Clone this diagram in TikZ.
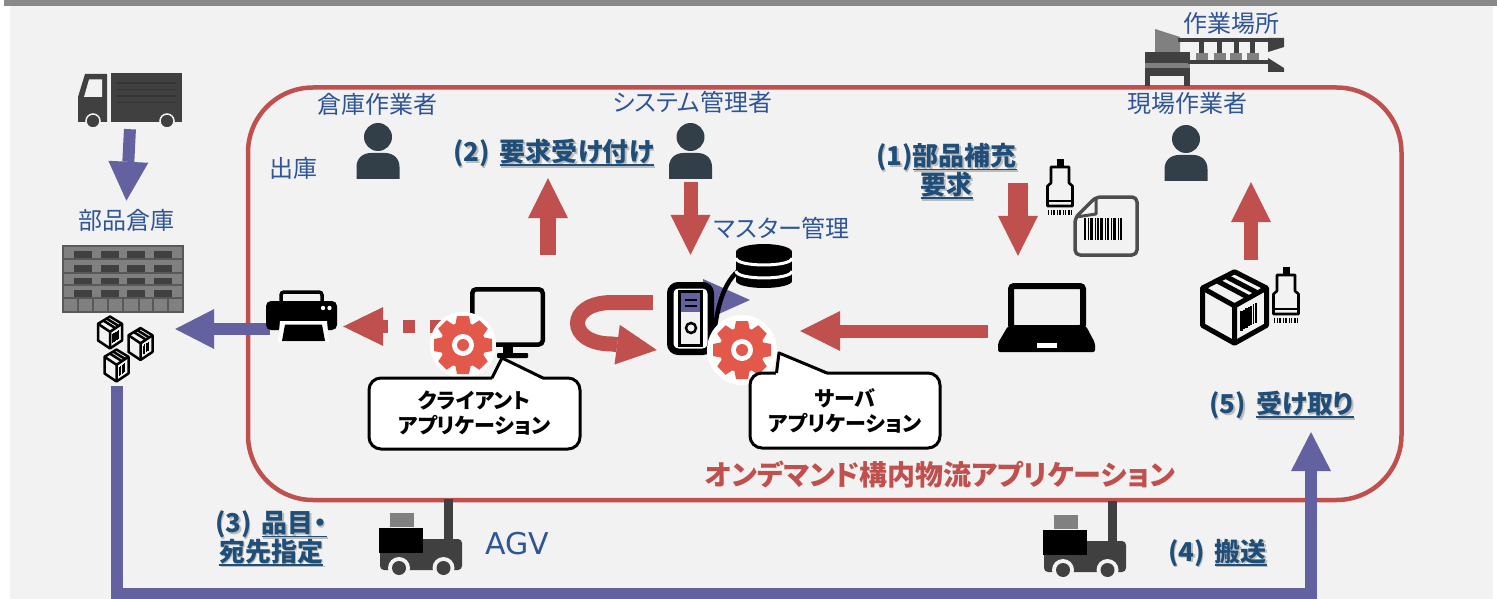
\documentclass[tikz,border=0pt]{standalone}
\usepackage{fontspec}
\setmainfont{Noto Sans CJK JP}[RawFeature=+palt]
\newfontfamily\agvfont{DejaVu Sans}
\usetikzlibrary{arrows.meta,fit}
\definecolor{panel}{RGB}{242,242,242}
\definecolor{topbar}{RGB}{137,137,137}
\definecolor{redc}{RGB}{192,80,77}
\definecolor{gearred}{RGB}{226,88,75}
\definecolor{purp}{RGB}{100,97,160}
\definecolor{bluec}{RGB}{47,85,151}
\definecolor{bblue}{RGB}{31,78,121}
\definecolor{icondark}{RGB}{64,64,64}
\definecolor{iconmid}{RGB}{128,128,128}
\definecolor{rackline}{RGB}{89,89,89}
\definecolor{personc}{RGB}{51,63,72}
\definecolor{docgrey}{RGB}{77,77,77}
% underline that does not change the height of the text box
\newcommand\ulj[1]{\setbox0=\hbox{#1}\rlap{\smash{\rule[-4.5pt]{\wd0}{1.8pt}}}\box0}
% bold step label with a soft drop shadow
\newcommand\boldlabel[4]{%
  \node[blshadow] (#1-shadow) at ({#2+1.5},{#3+1.5}) {#4};
  \node[blbl] (#1) at (#2,#3) {#4};}

\tikzset{
  gear/.pic={
    \fill[gearred] (0,0) circle (22.5);
    \foreach \a in {0,45,...,315}{
      \fill[gearred,rotate=\a] (-8,-19) -- (8,-19) -- (6,-29) -- (-6,-29) -- cycle;}
    \fill[white] (0,0) circle (11);
    \fill[gearred] (0,0) circle (6);
  },
  person/.pic={
    \fill[personc] (0,0) circle (14);
    \fill[personc] (-21.5,42) -- (-21.5,30) .. controls (-21.5,21) and (-15,16) .. (-7,16)
      -- (7,16) .. controls (15,16) and (21.5,21) .. (21.5,30) -- (21.5,42) -- cycle;
  },
  parcel/.pic={
    \draw[fill=panel,line join=round] (0,-1.1) -- (1,-0.6) -- (1,0.55) -- (0,1.1) -- (-1,0.55) -- (-1,-0.6) -- cycle;
    \draw[line join=round] (-1,-0.6) -- (0,-0.05) -- (1,-0.6) (0,-0.05) -- (0,1.1);
    \draw[line join=round] (-0.55,-0.82) -- (0.45,-0.30) (-0.28,-0.96) -- (0.72,-0.45);
    \foreach \x/\w in {0.22/1,0.30/0.5,0.37/1,0.45/0.5,0.52/0.8,0.60/0.5,0.67/1}{
      \draw[line width=\w*#1] (\x,{-0.05-0.55*\x+0.28}) -- ++(0,0.6);}
  },
  scanner/.pic={
    \fill (-3.5,1) rectangle (3.5,9);
    \draw[line width=2.6pt,line join=round] (-9,9) -- (9,9) -- (9,25) -- (12.5,28) -- (12.5,48)
      -- (-12.5,48) -- (-12.5,28) -- (-9,25) -- cycle;
    \draw[line width=2pt] (-12.5,43) -- (12.5,43);
    \foreach \x/\w in {-11.5/1.5,-8.5/1,-6/1.8,-2.5/1,0/1.5,3/1,5.5/1.8,9/1.5,11.5/1}{
      \draw[line width=\w pt] (\x,52) -- (\x,57);}
  },
  agv/.pic={
    \fill[icondark] (64,0) rectangle (73,42);
    \fill[icondark,rounded corners=4pt] (0,40) rectangle (82,71);
    \fill[iconmid] (10,14) rectangle (34,28);
    \fill[black] (-1,29) rectangle (43,54);
    \foreach \x in {19,63.5}{
      \fill[panel] (\x,69) circle (11);
      \fill[icondark] (\x,69) circle (7);}
  }
}

\begin{document}
\begin{tikzpicture}[x=1pt,y=-1pt,
  lbl/.style={text=bluec,font=\fontsize{24}{28}\selectfont,inner sep=0pt},
  blbl/.style={text=bblue,font=\fontsize{26}{25}\selectfont\bfseries,inner sep=0pt,align=center},
  blshadow/.style={blbl,text=black,opacity=0.22},
  iconbox/.style={inner sep=0pt},
  gearbox/.style={circle,inner sep=0pt,minimum size=#1},
  callout/.style={draw=black,line width=3pt,fill=white,rounded corners=12pt,inner sep=0pt,
    align=center,font=\fontsize{21}{25}\selectfont\bfseries},
  rarrow/.style={draw=redc,line width=#1,-{Triangle[length=40pt,width=40pt,line width=0pt]}},
  parrow/.style={draw=purp,line width=12pt,line join=miter,-{Triangle[length=39pt,width=40pt,line width=0pt]}},
  rdash/.style={draw=redc,line width=13pt,dash pattern=on 12pt off 15pt,dash phase=6pt,
    -{Triangle[length=40pt,width=39pt,line width=0pt]}}
]
\useasboundingbox (0,0) rectangle (1497,599);

% ---- background -------------------------------------------------------
\fill[white] (0,0) rectangle (1497,599);
\fill[topbar] (4,0) rectangle (1497,5.7);
\fill[panel] (10,5.7) rectangle (1493,599);

% ---- application frame --------------------------------------------------
\draw[redc,line width=4.5pt,rounded corners=65pt] (248,87.5) rectangle (1401.5,500);

% ---- icon anchors -------------------------------------------------------
\node[iconbox,fit={(78,73) (182,128)}] (truck) {};
\node[iconbox,fit={(63,246) (183,312)}] (rack) {};
\node[iconbox,fit={(98,316) (153,382)}] (parcels) {};
\node[iconbox,fit={(266,290) (337,341)}] (printer) {};
\node[iconbox,fit={(470,287) (545,358)}] (monitor) {};
\node[gearbox=66pt] (clientgear) at (463,345) {};
\node[iconbox,fit={(667,282) (714,355)}] (server) {};
\node[iconbox,fit={(736,244) (792,288)}] (db) {};
\node[gearbox=70pt] (srvgear) at (742,350) {};
\node[iconbox,fit={(998,283) (1095,352)}] (laptop) {};
\node[iconbox,fit={(1046,158) (1074,215)}] (scanA) {};
\node[iconbox,fit={(1073,195) (1139,257)}] (barcodedoc) {};
\node[iconbox,fit={(1202,272) (1267,343)}] (parcelbig) {};
\node[iconbox,fit={(1272,266) (1300,323)}] (scanB) {};
\node[iconbox,fit={(356.5,123) (399.5,179)}] (wworker) {};
\node[iconbox,fit={(669,123) (712,179)}] (sysadmin) {};
\node[iconbox,fit={(1164.5,125) (1207.5,181)}] (fworker) {};
\node[iconbox,fit={(379,499) (462,576)}] (agvA) {};
\node[iconbox,fit={(1043,501) (1126,578)}] (agvB) {};
\node[iconbox,fit={(1145,29) (1284,86)}] (workplace) {};
\coordinate (req1src) at (1018,183);

% ---- plain labels -------------------------------------------------------
\node[lbl] (lblworkplace) at (1231,23) {作業場所};
\node[lbl] (lblwworker) at (377,104) {倉庫作業者};
\node[lbl] (lblsysadmin) at (692.5,102) {システム管理者};
\node[lbl] (lblfworker) at (1187,103) {現場作業者};
\node[lbl] (lblship) at (293,168) {出庫};
\node[lbl] (whlabel) at (126,220) {部品倉庫};
\node[lbl] (lblmaster) at (782,228) {マスター管理};
\node[text=bluec,font=\agvfont\fontsize{30}{32}\selectfont,inner sep=0pt] (lblagv) at (517,544) {AGV};

% ---- step labels --------------------------------------------------------
\boldlabel{req2}{553.5}{153}{(2)\hspace{10pt}\ulj{要求受け付け}}
\boldlabel{req1}{946.5}{170.5}{(1)\ulj{部品補充}\\\ulj{要求}}
\boldlabel{recv5}{1281.5}{405}{(5)\hspace{10pt}\ulj{受け取り}}
\boldlabel{req3}{271}{537.5}{(3)\hspace{10pt}\ulj{品目・}\\\ulj{宛先指定}}
\boldlabel{carry4}{1217.5}{553}{(4)\hspace{10pt}\ulj{搬送}}
\node[text=redc,font=\fontsize{28}{30}\selectfont\bfseries,inner sep=0pt] (apptitle) at (940,475)
  {オンデマンド構内物流アプリケーション};

% ---- people -------------------------------------------------------------
\pic at (378,137) {person};
\pic at (690.5,137) {person};
\pic at (1186,139) {person};

% ---- workplace (press line) --------------------------------------------
\fill[iconmid] (1155,29) -- (1180,37) -- (1180,53) -- (1155,53) -- cycle;
\fill[icondark] (1145,52) rectangle (1190,63);
\fill[iconmid] (1145,63) rectangle (1190,68);
\fill[icondark] (1145,68) rectangle (1190,76);
\fill[icondark] (1145,76) rectangle (1150,86);
\fill[icondark] (1184,76) rectangle (1190,86);
\fill[icondark] (1178,38) rectangle (1268,42);
\fill[icondark] (1268,38) -- (1284,38) -- (1284,47) -- (1268,52) -- cycle;
\fill[icondark] (1188,60) rectangle (1268,64);
\fill[icondark] (1268,58) -- (1284,68) -- (1284,72) -- (1268,72) -- cycle;
\foreach \x in {1201.5,1219.5,1236,1252.5}{
  \fill[icondark] (\x-2.5,42) rectangle (\x+2.5,53);
  \fill[iconmid] (\x-6,53) rectangle (\x+6,60);}

% ---- truck --------------------------------------------------------------
\fill[icondark] (78,97) -- (85,74) -- (107,74) -- (107,122) -- (78,122) -- cycle;
\fill[panel] (84,97) -- (89,79.5) -- (102,79.5) -- (102,97) -- cycle;
\fill[icondark] (111,73) rectangle (182,122);
\foreach \y in {83,89.5,96,102.5}{\draw[black!80,line width=1.8pt] (117,\y) -- (176,\y);}
\foreach \x in {93,167}{\filldraw[fill=icondark,draw=panel,line width=1.5pt] (\x,121) circle (7);}

% ---- parts warehouse rack ----------------------------------------------
\fill[iconmid] (63,246) rectangle (183,312);
\foreach \y in {259,272.5,285,298}{\draw[rackline,line width=2pt] (63,\y) -- (183,\y);}
\foreach \ya/\yb in {251/258,264.5/271.5,277.5/284,290/297}{
  \foreach \xa in {74,101,127,154}{\fill[icondark] (\xa,\ya) rectangle (\xa+18,\yb);}}
\foreach \x in {78,93,108,123,139,153,168}{\draw[rackline,line width=1.5pt] (\x,298) -- (\x,312);}
\draw[rackline,line width=1.5pt] (63,246) rectangle (183,312);

% ---- small parcels ------------------------------------------------------
\pic[line width=2.5pt,xscale=12,yscale=14.5] at (110,332.5) {parcel=0.9};
\pic[line width=2.5pt,xscale=12,yscale=14.5] at (140.5,344) {parcel=0.9};
\pic[line width=2.5pt,xscale=12,yscale=14.5] at (116.5,365.5) {parcel=0.9};

% ---- purple flows -------------------------------------------------------
\draw[parrow,shorten <=1pt,shorten >=8pt] (truck.south) -- (whlabel.north);
\draw[parrow,shorten <=-4pt,shorten >=22pt] ([yshift=-13.5pt]printer.west) -- ([yshift=20pt]parcels.east);
\draw[parrow,shorten >=13pt] ([xshift=-8.5pt,yshift=-4pt]parcels.south) -- ++(0,208)
  -| ([xshift=29.5pt]recv5.south);

% ---- printer ------------------------------------------------------------
\draw[line width=3.5pt,rounded corners=3pt] (281,303) -- (281,292) -- (322,292) -- (322,303);
\fill[black,rounded corners=5pt] (266,301) rectangle (337,330);
\fill[white] (280,321) -- (327,321) -- (329,342) -- (278,342) -- cycle;
\fill[black] (285,324.5) -- (322,324.5) -- (325,341) -- (282,341) -- cycle;
\fill[white] (323,308) circle (2.2) (329.5,308) circle (2.2);

% ---- red request flows --------------------------------------------------
\draw[rarrow=16pt,shorten <=32pt,shorten >=11pt] ([xshift=40.5pt]monitor.north) -- ([xshift=-5.5pt]req2.south);
\draw[rarrow=14pt,shorten <=3pt,shorten >=27pt] (sysadmin.south) -- (server.north);
\draw[rarrow=20pt,shorten >=27pt] (req1src) -- ([xshift=-28.5pt]laptop.north);
\draw[rarrow=14pt,shorten <=12pt,shorten >=1pt] ([xshift=16.5pt]parcelbig.north) -- ([xshift=65pt]fworker.south);
\draw[rarrow=13pt,shorten <=10pt,shorten >=23pt] ([yshift=-13.5pt]laptop.west) -- ([yshift=19pt]srvgear.east);
\draw[rarrow=15pt,shorten <=14pt] ([yshift=16pt]server.west) -- (612,302.5)
  .. controls (566,302.5) and (566,344) .. (612,344) -- ([xshift=-10pt,yshift=-31.5pt]server.west);

% ---- client PC ----------------------------------------------------------
\draw[line width=4.5pt,rounded corners=4pt] (472.25,289.25) rectangle (542.75,344.5);
\fill[black] (503,346) rectangle (513,355);
\fill[black,rounded corners=1pt] (497,353) rectangle (528,358);
\draw[rdash,shorten >=6pt] ([yshift=18.5pt]clientgear.center) -- ([yshift=-11pt]printer.east);
\fill[white] (clientgear.center) circle (33);
\pic at (clientgear.center) {gear};
\node[callout,minimum width=211pt,minimum height=71pt] (clientapp) at (474.5,413.5)
  {クライアント\\アプリケーション};
\fill[white] (492,379.8) -- (502,358) -- (543,379.8) -- cycle;
\draw[line width=3pt,line join=round] (492,378) -- (502,358) -- (543,378);

% ---- server -------------------------------------------------------------
\fill[purp] (703,279) -- (750,300) -- (703,321) -- cycle;
\draw[line width=6.5pt,rounded corners=8pt,fill=white] (670.25,285.25) rectangle (710.75,351.75);
\draw[line width=3pt,fill=panel] (679,291.5) rectangle (701.5,345.5);
\fill[purp] (680.5,293) rectangle (700,312);
\draw[black,line width=2.5pt] (685,300) -- (697,300) (685,306) -- (697,306);
\draw[black,line width=2.5pt] (691,328) circle (5);
\draw[line width=4.5pt] ([xshift=-2pt,yshift=5pt]server.south east) .. controls (716,310) and (722,282)
  .. ([xshift=6pt,yshift=-2pt]db.west);
% master database
\fill[black] (736,252) rectangle (792,281);
\fill[black] (764,252) ellipse (28pt and 8pt);
\fill[black] (764,281) ellipse (28pt and 7pt);
\draw[white,line width=3pt] (736,258) .. controls (736,267.3) and (792,267.3) .. (792,258);
\draw[white,line width=3pt] (736,271) .. controls (736,280.3) and (792,280.3) .. (792,271);
\fill[white] (srvgear.center) circle (35);
\pic at (srvgear.center) {gear};
\node[callout,minimum width=190pt,minimum height=75pt] (srvapp) at (845,410.5)
  {サーバ\\アプリケーション};
\fill[white] (776,374.8) -- (779,353) -- (827,374.8) -- cycle;
\draw[line width=3pt,line join=round] (776.5,373) -- (779,353) -- (827,373);

% ---- field laptop -------------------------------------------------------
\draw[line width=6pt,rounded corners=3pt] (1011,286) rectangle (1083,328);
\fill[black,rounded corners=2pt] (1008,326) -- (1086,326) -- (1095,343) -- (1095,352) -- (998,352) -- (998,343) -- cycle;
\fill[white] (1037,342.5) rectangle (1057,347.5);

% ---- scanners, barcode sheet, received parcel ---------------------------
\pic at (1060,158) {scanner};
\pic at (1286,266) {scanner};
\draw[docgrey,line width=3.5pt,rounded corners=5pt,line join=round] (1096,197) -- (1137,197) -- (1137,255)
  -- (1075,255) -- (1075,218) -- cycle;
\draw[docgrey,line width=3pt,line join=round] (1096,198) -- (1096,214) -- (1076,217);
\foreach \x/\w in {1085/2,1088.5/1,1091.5/2.5,1095/1,1098/1.2,1101.5/3,1105/1,1108/2,1111.5/1,1114.5/2.5,1118/1,1121/1.5}{
  \draw[black,line width=\w pt] (\x,218) -- (\x,240);}
\pic[line width=5pt,xscale=32,yscale=32.5] at (1234.5,307.5) {parcel=2.6};

% ---- AGVs ---------------------------------------------------------------
\pic at (380,499) {agv};
\pic at (1044,501) {agv};

\end{tikzpicture}
\end{document}
